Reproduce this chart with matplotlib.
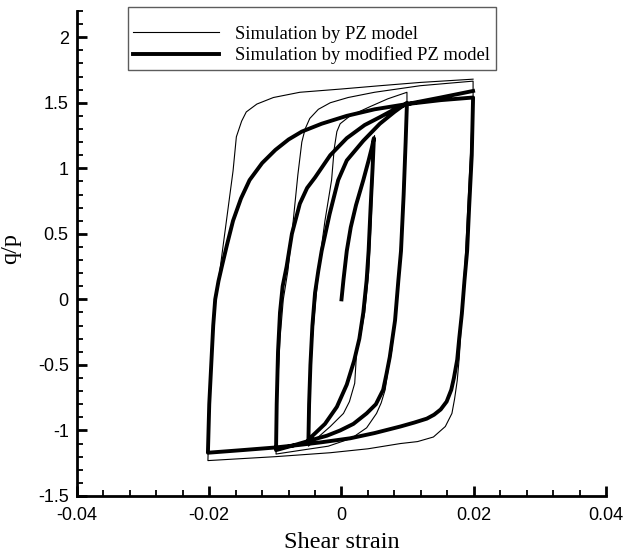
import matplotlib
matplotlib.use('Agg')
import matplotlib.pyplot as plt
from matplotlib.ticker import MultipleLocator, FormatStrFormatter

matplotlib.rc('axes', unicode_minus=False)

# ---- data (shear strain, q/p) ----
# modified PZ model (thick line)
mod_x = [0.0, 0.0003, 0.0008, 0.0014, 0.0022, 0.0033, 0.0041, 0.0046, 0.0049,      # initial loading
         0.0047, 0.0044, 0.0041, 0.0038, 0.0033, 0.0027, 0.0019, 0.0008, -0.0007, -0.0025, -0.0050,   # unload
         -0.0049, -0.0047, -0.0044, -0.0040, -0.0035, -0.0030, -0.0018, -0.0005, 0.0008, 0.0033, 0.0058, 0.0080, 0.0099,  # reload
         0.0097, 0.0094, 0.0090, 0.0086, 0.0081, 0.0077, 0.0073, 0.0068, 0.0063, 0.0052, 0.0038, 0.0018, -0.0002, -0.0022, -0.0043, -0.0070, -0.0099,
         -0.0098, -0.0096, -0.0093, -0.0089, -0.0083, -0.0075, -0.0063, -0.0052, -0.0040, -0.0017, 0.0008, 0.0035, 0.0058, 0.0080, 0.0099, 0.0150, 0.0199,
         0.0197, 0.0193, 0.0190, 0.0186, 0.0182, 0.0178, 0.0175, 0.0170, 0.0166, 0.0159, 0.0150, 0.0140, 0.0129, 0.0110, 0.0089, 0.0050, 0.0013, -0.0030, -0.0063, -0.0100, -0.0150, -0.0202,
         -0.0200, -0.0197, -0.0194, -0.0191, -0.0186, -0.0181, -0.0173, -0.0164, -0.0152, -0.0139, -0.0120, -0.0100, -0.0080, -0.0060, -0.0030, 0.0008, 0.0050, 0.0099, 0.0150, 0.0199]
mod_y = [0.0, 0.15, 0.37, 0.55, 0.72, 0.91, 1.06, 1.16, 1.23,
         1.00, 0.70, 0.37, 0.145, -0.10, -0.30, -0.47, -0.65, -0.82, -0.95, -1.07,
         -0.80, -0.50, -0.20, 0.05, 0.22, 0.37, 0.65, 0.91, 1.06, 1.21, 1.34, 1.43, 1.50,
         1.20, 0.80, 0.37, 0.145, -0.16, -0.30, -0.44, -0.57, -0.69, -0.80, -0.87, -0.95, -1.00, -1.04, -1.07, -1.11, -1.15,
         -0.80, -0.40, -0.10, 0.10, 0.25, 0.50, 0.73, 0.85, 0.93, 1.10, 1.23, 1.33, 1.39, 1.45, 1.49, 1.52, 1.54,
         1.10, 0.70, 0.37, 0.145, -0.11, -0.30, -0.46, -0.60, -0.69, -0.78, -0.84, -0.88, -0.91, -0.94, -0.97, -1.02, -1.06, -1.09, -1.11, -1.13, -1.15, -1.17,
         -0.80, -0.50, -0.20, 0.00, 0.14, 0.25, 0.42, 0.60, 0.77, 0.91, 1.04, 1.14, 1.22, 1.28, 1.34, 1.40, 1.45, 1.49, 1.54, 1.59]

# PZ model (thin line)
pz_x = [0.0, 0.0003, 0.0008, 0.0014, 0.0022, 0.0033, 0.0041, 0.0047, 0.0050,
        0.0048, 0.0045, 0.0041, 0.0035, 0.0028, 0.0023, 0.0020, 0.0012, 0.0003, -0.0017, -0.0035, -0.0050,
        -0.0048, -0.0044, -0.0039, -0.0033, -0.0025, -0.0015, -0.0011, -0.0007, -0.0002, 0.0013, 0.0043, 0.0070, 0.0099,
        0.0099, 0.0096, 0.0093, 0.0089, 0.0085, 0.0080, 0.0076, 0.0071, 0.0066, 0.0060, 0.0053, 0.0038, 0.0015, -0.0020, -0.0060, -0.0099,
        -0.0097, -0.0093, -0.0088, -0.0081, -0.0073, -0.0066, -0.0060, -0.0055, -0.0048, -0.0035, -0.0017, 0.0010, 0.0050, 0.0119, 0.0199,
        0.0199, 0.0196, 0.0192, 0.0187, 0.0183, 0.0180, 0.0178, 0.0175, 0.0171, 0.0167, 0.0157, 0.0139, 0.0115, 0.0089, 0.0040, -0.0017, -0.0100, -0.0202,
        -0.0200, -0.0197, -0.0192, -0.0184, -0.0174, -0.0164, -0.0159, -0.0151, -0.0144, -0.0128, -0.0103, -0.0063, 0.0000, 0.0058, 0.0119, 0.0199]
pz_y = [0.0, 0.15, 0.37, 0.55, 0.72, 0.92, 1.07, 1.18, 1.25,
        1.00, 0.60, 0.20, -0.10, -0.30, -0.39, -0.64, -0.78, -0.87, -0.97, -1.05, -1.12,
        -0.70, -0.30, 0.00, 0.30, 0.60, 0.91, 1.15, 1.28, 1.34, 1.40, 1.47, 1.53, 1.58,
        1.50, 1.20, 0.80, 0.37, 0.10, -0.20, -0.39, -0.52, -0.69, -0.79, -0.87, -0.98, -1.06, -1.12, -1.15, -1.18,
        -0.70, -0.30, 0.00, 0.22, 0.60, 0.95, 1.20, 1.30, 1.38, 1.45, 1.50, 1.54, 1.58, 1.63, 1.665,
        1.55, 1.20, 0.80, 0.30, 0.00, -0.29, -0.45, -0.62, -0.76, -0.87, -0.97, -1.05, -1.085, -1.10, -1.14, -1.17, -1.20, -1.23,
        -0.80, -0.40, -0.05, 0.22, 0.60, 0.98, 1.24, 1.36, 1.43, 1.49, 1.54, 1.58, 1.605, 1.63, 1.655, 1.68]

legend_labels = ['Simulation by PZ model', 'Simulation by modified PZ model']

fig = plt.figure(figsize=(6.27, 5.53), dpi=100)
ax = fig.add_axes([0.1228, 0.1031, 0.8437, 0.877])

l1, = ax.plot(pz_x, pz_y, color='k', lw=0.8, label=legend_labels[0])
l2, = ax.plot(mod_x, mod_y, color='k', lw=2.8, label=legend_labels[1])

ax.set_xlim(-0.04, 0.04)
ax.set_ylim(-1.5, 2.2)

# Spines and ticks
ax.spines['top'].set_visible(False)
ax.spines['right'].set_visible(False)
for s in ['left', 'bottom']:
    ax.spines[s].set_linewidth(2.0)
ax.xaxis.set_major_locator(MultipleLocator(0.02))
ax.xaxis.set_minor_locator(MultipleLocator(0.004))
ax.yaxis.set_major_locator(MultipleLocator(0.5))
ax.yaxis.set_minor_locator(MultipleLocator(0.1))
ax.xaxis.set_major_formatter(FormatStrFormatter('%g'))
ax.yaxis.set_major_formatter(FormatStrFormatter('%g'))
ax.tick_params(which='major', direction='in', length=7.5, width=2.0, labelsize=13, pad=6)
ax.tick_params(which='minor', direction='in', length=4, width=1.3)
ax.tick_params(axis='x', which='major', pad=8)
for t in ax.get_xticklabels() + ax.get_yticklabels():
    t.set_family('Liberation Sans')

# Labelling
ax.set_xlabel('Shear strain', family='Liberation Serif', fontsize=17.5, labelpad=6)
ax.set_ylabel('q/p', family='Liberation Serif', fontsize=17.5)
ax.yaxis.set_label_coords(-0.105, 0.51)

# Legend
leg = fig.legend(handles=[l1, l2], loc='upper left', bbox_to_anchor=(0.204, 0.987),
                 prop={'family': 'Liberation Serif', 'size': 13.4}, frameon=True, fancybox=False,
                 title=' ', title_fontsize=6.5,
                 handlelength=4.6, handletextpad=0.85, labelspacing=0.2, borderpad=0.3,
                 borderaxespad=0)
leg.get_frame().set_edgecolor('#333333')
leg.get_frame().set_linewidth(1.0)

plt.savefig('out.png', dpi=100)
plt.close()
